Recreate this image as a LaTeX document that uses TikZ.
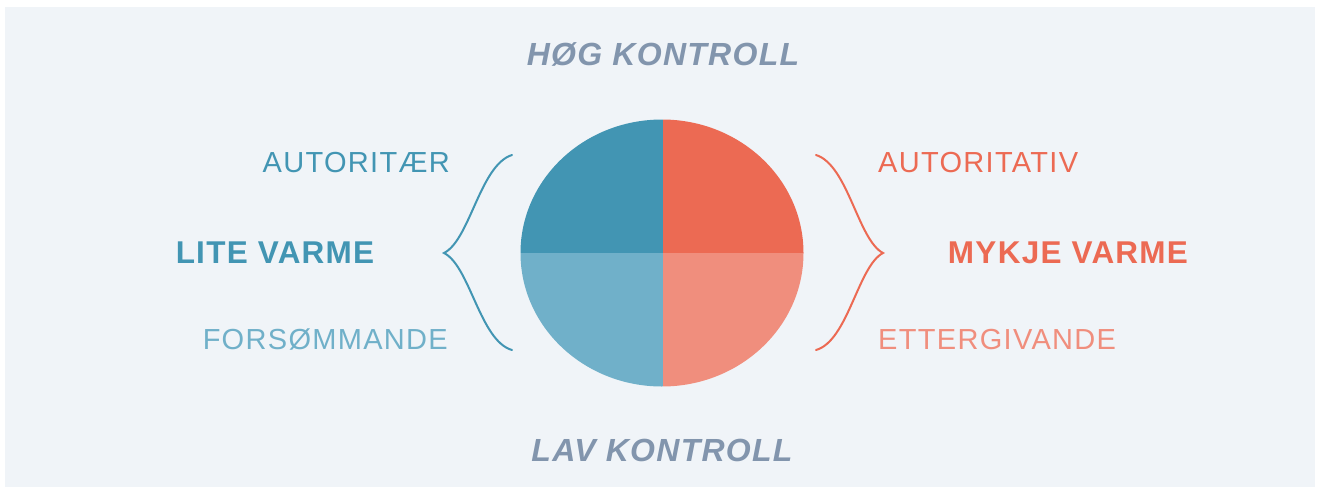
\documentclass[tikz,border=0pt]{standalone}
\usepackage{fontspec}
\setmainfont{Liberation Sans}
\newfontfamily\lsfont[LetterSpace=4]{Liberation Sans}
\newfontfamily\lsfontb[LetterSpace=4.5]{Liberation Sans}
\definecolor{bg}{HTML}{F0F4F8}
\definecolor{darkblue}{HTML}{4295B3}
\definecolor{lightblue}{HTML}{70B0C9}
\definecolor{darkred}{HTML}{EC6A53}
\definecolor{lightred}{HTML}{F08E7D}
\definecolor{slate}{HTML}{8295AD}
\begin{document}
\begin{tikzpicture}[x=1pt,y=-1pt,
  titlelbl/.style={font=\lsfont\fontsize{32}{36}\selectfont\bfseries\itshape, text=slate, inner sep=0, anchor=base},
  axislbl/.style={font=\lsfont\fontsize{31.5}{36}\selectfont\bfseries, inner sep=0, anchor=base},
  stylelbl/.style={font=\lsfontb\fontsize{29}{34}\selectfont, inner sep=0},
  bracestroke/.style={line width=2pt, line cap=round}]
\useasboundingbox (0,0) rectangle (1320,493);
\fill[white] (0,0) rectangle (1320,493);
\fill[bg] (5,7) rectangle (1315,487);
% quartered ellipse
\begin{scope}
\clip (662,253) ellipse [x radius=141.5, y radius=133.5];
\fill[darkblue] (515,105) rectangle (662.5,253);
\fill[darkred] (662.5,105) rectangle (810,253);
\fill[lightblue] (515,253) rectangle (662.5,395);
\fill[lightred] (662.5,253) rectangle (810,395);
\end{scope}
% labels
\node[titlelbl] (hog) at (663,65) {HØG KONTROLL};
\node[titlelbl] (lav) at (662,461) {LAV KONTROLL};
\node[axislbl, text=darkblue] (lite) at (275,263.3) {LITE VARME};
\node[axislbl, text=darkred] (mykje) at (1068,263.3) {MYKJE VARME};
\node[stylelbl, text=darkblue, anchor=base east] (autoritaer) at (450,172.7) {AUTORITÆR};
\node[stylelbl, text=lightblue, anchor=base east] (forsom) at (448,349.3) {FORSØMMANDE};
\node[stylelbl, text=darkred, anchor=base west] (autoritativ) at (878,172.7) {AUTORITATIV};
\node[stylelbl, text=lightred, anchor=base west] (ettergiv) at (878,349.3) {ETTERGIVANDE};
% braces
\coordinate (lt) at (512,155);
\coordinate (ltip) at (444,253);
\coordinate (lb) at (512,350);
\coordinate (rt) at (816,155);
\coordinate (rtip) at (883,253);
\coordinate (rb) at (816,350);
\draw[bracestroke, darkblue] (lt) .. controls (480,165) and (470,240) .. (ltip)
  .. controls (470,266) and (480,341) .. (lb);
\draw[bracestroke, darkred] (rt) .. controls (848,165) and (858,240) .. (rtip)
  .. controls (858,266) and (848,341) .. (rb);
\end{tikzpicture}
\end{document}
